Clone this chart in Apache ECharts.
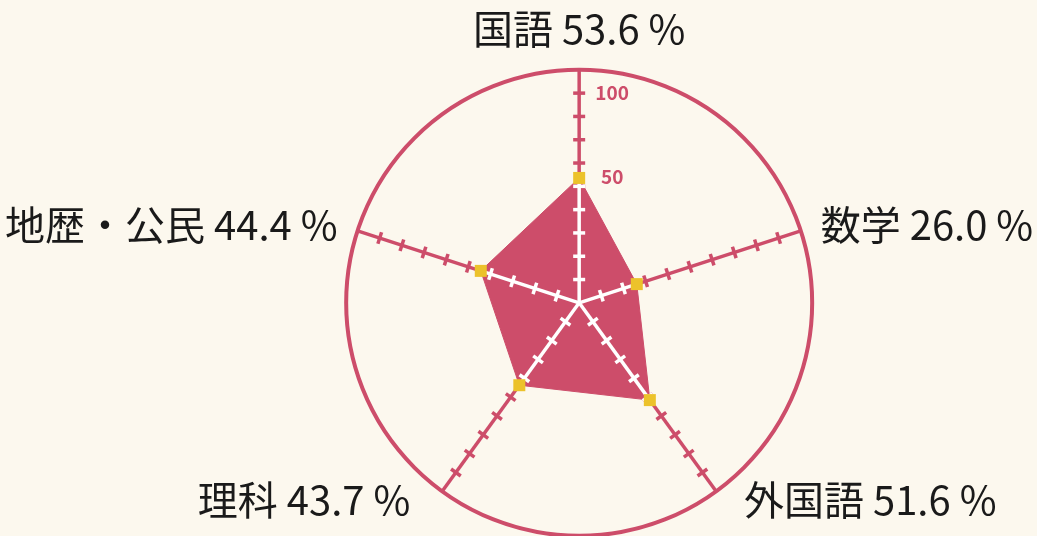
<!DOCTYPE html>
<html>
<head>
<meta charset="utf-8">
<title>科目別 正答率</title>
<script src="https://cdn.jsdelivr.net/npm/echarts@6/dist/echarts.min.js"></script>
<style>
    html, body { margin: 0; padding: 0; background: #fcf8ee; }
    #chart { width: 1037px; height: 536px; }
</style>
</head>
<body>
<div id="chart"></div>
<script>
// 科目（上から反時計回り）と得点率
var subjects = ['国語', '地歴・公民', '理科', '外国語', '数学'];
var scores = [53.6, 44.4, 43.7, 51.6, 26.0];

// 目盛り
var axisMax = 100;
var tickStep = 10;
var scaleLabels = ['50', '100'];
var scaleLabelAt = [54, 90];

var pink = '#cd4d6a';
var yellow = '#ecc22b';
var center = ['55.85%', '56.5%'];
var radius = 233;

var chart = echarts.init(document.getElementById('chart'));

var indicators = subjects.map(function(s) {
    var ind = { name: s, min: 0, max: axisMax };
    // 下側の2つはラベルを少し外側へ
    if (s === '外国語') { ind.nameGap = 10; ind.nameTextStyle = { padding: [0, 0, 0, 22] }; }
    if (s === '理科') { ind.nameGap = 10; ind.nameTextStyle = { padding: [0, 26, 0, 0] }; }
    return ind;
});

// 一番外側の円だけ描く
var ringColors = [];
for (var k = 0; k < axisMax / tickStep; k++) ringColors.push('rgba(0,0,0,0)');
ringColors.push(pink);

function nameText(name) {
    var i = subjects.indexOf(name);
    return name + ' ' + scores[i].toFixed(1) + ' %';
}

// 中心から値までの軸線と両側に出る目盛り
function spokeRenderer(color) {
    return function(params, api) {
        var v = api.value(0);
        var i = api.value(1);
        var p0 = api.coord([0, i]);
        var p1 = api.coord([v, i]);
        var dx = p1[0] - p0[0], dy = p1[1] - p0[1];
        var len = Math.sqrt(dx * dx + dy * dy);
        var nx = -dy / len, ny = dx / len;
        var children = [{
            type: 'line',
            shape: { x1: p0[0], y1: p0[1], x2: p1[0], y2: p1[1] },
            style: { stroke: color, lineWidth: 3.5 }
        }];
        for (var t = tickStep; t < v - 0.5; t += tickStep) {
            var p = api.coord([t, i]);
            children.push({
                type: 'line',
                shape: { x1: p[0] - nx * 6, y1: p[1] - ny * 6, x2: p[0] + nx * 6, y2: p[1] + ny * 6 },
                style: { stroke: color, lineWidth: 3.5 }
            });
        }
        return { type: 'group', children: children };
    };
}

function renderScaleLabel(params, api) {
    var p = api.coord([api.value(0), 0]);
    return {
        type: 'text',
        x: p[0] + 33,
        y: p[1],
        style: {
            text: scaleLabels[params.dataIndex],
            fill: pink,
            font: 'bold 19px "Noto Sans CJK JP"',
            align: 'center',
            verticalAlign: 'middle'
        }
    };
}

var option = {
    backgroundColor: '#fcf8ee',
    textStyle: { fontFamily: '"Noto Sans CJK JP", "Noto Sans", sans-serif' },
    radar: {
        center: center,
        radius: radius,
        shape: 'circle',
        startAngle: 90,
        splitNumber: axisMax / tickStep,
        indicator: indicators,
        nameGap: 21,
        axisName: {
            color: '#1a1a1a',
            fontSize: 40,
            fontFamily: '"Noto Sans CJK JP"',
            formatter: nameText
        },
        axisLine: { show: false },
        axisTick: { show: false },
        axisLabel: { show: false },
        splitLine: { lineStyle: { color: ringColors, width: 4 } },
        splitArea: { show: false }
    },
    polar: { center: center, radius: radius },
    angleAxis: {
        type: 'category',
        data: subjects,
        startAngle: 90,
        clockwise: false,
        boundaryGap: false,
        show: false
    },
    radiusAxis: { min: 0, max: axisMax, show: false },
    series: [{
        // 軸（ピンク）
        type: 'custom',
        coordinateSystem: 'polar',
        z: 1,
        silent: true,
        renderItem: spokeRenderer(pink),
        data: subjects.map(function(s, i) { return [axisMax, i]; })
    }, {
        type: 'radar',
        z: 2,
        symbol: 'none',
        lineStyle: { color: pink, width: 1 },
        areaStyle: { color: pink, opacity: 1 },
        data: [{ value: scores, name: '得点率' }]
    }, {
        // 多角形の内側の軸（白）
        type: 'custom',
        coordinateSystem: 'polar',
        z: 3,
        silent: true,
        renderItem: spokeRenderer('#ffffff'),
        data: scores.map(function(v, i) { return [v, i]; })
    }, {
        type: 'radar',
        z: 4,
        symbol: 'rect',
        symbolSize: 12,
        itemStyle: { color: yellow },
        lineStyle: { opacity: 0 },
        data: [{ value: scores, name: '得点率' }]
    }, {
        type: 'custom',
        coordinateSystem: 'polar',
        z: 5,
        silent: true,
        renderItem: renderScaleLabel,
        data: scaleLabelAt.map(function(v) { return [v, 0]; })
    }]
};

chart.setOption(option);

window.addEventListener('resize', function() {
    chart.resize();
});
</script>
</body>
</html>
